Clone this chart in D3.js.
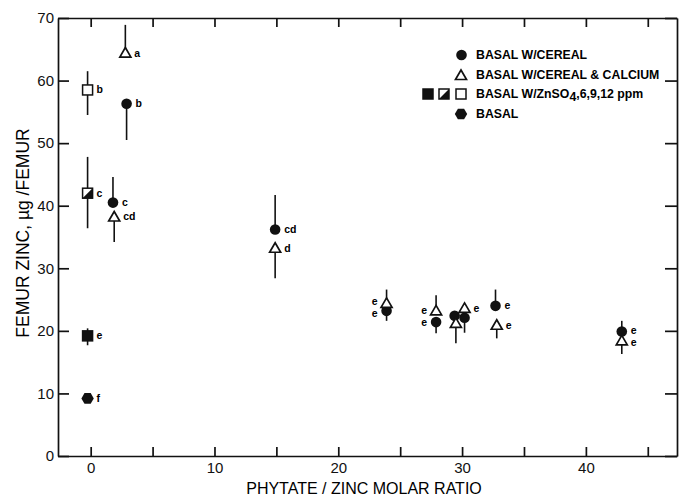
<!DOCTYPE html>
<html>
<head>
<meta charset="utf-8">
<script src="https://cdn.jsdelivr.net/npm/d3@7"></script>
<style>
body{margin:0;background:#fff;}
svg{display:block;font-family:"Liberation Sans",Arial,sans-serif;}
.axis .domain,.axis line{stroke:#111;stroke-width:1.7;}
.axis text{fill:#111;}
</style>
</head>
<body>
<div id="canvas"></div>
<script>
// values (x = phytate/zinc molar ratio, y = femur zinc ug)
var cerealX   = [2.9, 1.8, 14.9, 23.9, 27.9, 29.4, 30.2, 32.7, 42.9];
var cerealY   = [56.3, 40.5, 36.2, 23.2, 21.4, 22.4, 22.1, 24.0, 19.9];
var cerealHi  = [56.3, 44.6, 41.7, 23.2, 21.4, 22.4, 22.1, 26.6, 21.6];
var cerealLo  = [50.5, 40.5, 36.2, 21.6, 19.6, 22.4, 19.7, 24.0, 19.9];
var cerealLab = ['b', 'c', 'cd', 'e', 'e', '', '', 'e', 'e'];
var cerealSide = ['r', 'r', 'r', 'l', 'l', 'r', 'r', 'r', 'r'];

var calciumX   = [2.8, 1.9, 14.9, 23.9, 27.9, 29.5, 30.2, 32.8, 42.9];
var calciumY   = [64.4, 38.2, 33.2, 24.4, 23.2, 21.2, 23.6, 20.9, 18.4];
var calciumHi  = [68.9, 38.2, 33.2, 26.6, 25.7, 21.2, 23.6, 20.9, 18.4];
var calciumLo  = [64.4, 34.2, 28.4, 24.4, 23.2, 18.0, 23.6, 18.8, 16.3];
var calciumLab = ['a', 'cd', 'd', 'e', 'e', '', 'e', 'e', 'e'];
var calciumSide = ['r', 'r', 'r', 'l', 'l', 'r', 'r', 'r', 'r'];

var zincPpm = [6, 9, 12];
var zincX   = [-0.25, -0.25, -0.25];
var zincY   = [19.2, 42.0, 58.5];
var zincHi  = [20.4, 47.8, 61.5];
var zincLo  = [17.7, 36.4, 54.5];
var zincLab = ['e', 'c', 'b'];

var basalX = [-0.25];
var basalY = [9.2];
var basalLab = ['f'];

var xTicks = [0, 5, 10, 15, 20, 25, 30, 35, 40, 45];
var yTicks = [0, 10, 20, 30, 40, 50, 60, 70];

var legendText = ['BASAL W/CEREAL', 'BASAL W/CEREAL & CALCIUM', 'BASAL W/ZnSO', 'BASAL'];

// margin convention
var m = {t:18, r:5, b:42, l:58};
var outerWidth = 682, outerHeight = 498;
var w = outerWidth - m.l - m.r,
    h = outerHeight - m.t - m.b;

var svg = d3.select('#canvas')
    .append('svg')
    .attr('width', outerWidth)
    .attr('height', outerHeight);

var plot = svg.append('g')
    .attr('transform', 'translate(' + m.l + ',' + m.t + ')');

var scaleX = d3.scaleLinear().domain([-2.64, 47.36]).range([0, w]);
var scaleY = d3.scaleLinear().domain([0, 70]).range([h, 0]);

// axes, ticks point inward on all four sides
plot.append('g').attr('class', 'axis')
    .call(d3.axisLeft(scaleY).tickValues(yTicks).tickSize(-11).tickSizeOuter(0).tickPadding(4))
    .attr('font-size', 15).attr('font-family', null);

plot.append('g').attr('class', 'axis')
    .attr('transform', 'translate(0,' + h + ')')
    .call(d3.axisBottom(scaleX).tickValues(xTicks).tickSize(-9).tickSizeOuter(0).tickPadding(6)
        .tickFormat(function(d){ return d % 10 === 0 ? d : ''; }))
    .attr('font-size', 15).attr('font-family', null);

plot.append('g').attr('class', 'axis')
    .call(d3.axisTop(scaleX).tickValues(xTicks).tickSize(-9).tickSizeOuter(0).tickFormat(''));

plot.append('g').attr('class', 'axis')
    .attr('transform', 'translate(' + w + ',0)')
    .call(d3.axisRight(scaleY).tickValues(yTicks).tickSize(-12).tickSizeOuter(0).tickFormat(''));

// axis titles
svg.append('text')
    .attr('x', 364).attr('y', 494)
    .attr('text-anchor', 'middle')
    .attr('font-size', 16)
    .text('PHYTATE / ZINC MOLAR RATIO');

svg.append('text')
    .attr('transform', 'translate(29,233) rotate(-90)')
    .attr('text-anchor', 'middle')
    .attr('font-size', 17.5)
    .text('FEMUR ZINC, \u00b5g /FEMUR');

// marker helpers
function drawCircle(g, cx, cy){
    g.append('circle').attr('cx', cx).attr('cy', cy).attr('r', 5.3).attr('fill', '#111');
}
function drawTriangle(g, cx, cy){
    g.append('path')
        .attr('d', 'M' + cx + ',' + (cy - 5.5) + 'L' + (cx + 5.5) + ',' + (cy + 4) + 'L' + (cx - 5.5) + ',' + (cy + 4) + 'Z')
        .attr('fill', '#fff').attr('stroke', '#111').attr('stroke-width', 1.7);
}
function drawSquare(g, cx, cy, kind){
    g.append('rect')
        .attr('x', cx - 5).attr('y', cy - 5).attr('width', 10).attr('height', 10)
        .attr('fill', kind === 0 ? '#111' : '#fff')
        .attr('stroke', '#111').attr('stroke-width', 1.5);
    if(kind === 1){
        g.append('path')
            .attr('d', 'M' + (cx + 5) + ',' + (cy - 5) + 'L' + (cx + 5) + ',' + (cy + 5) + 'L' + (cx - 5) + ',' + (cy + 5) + 'Z')
            .attr('fill', '#111');
    }
}
function drawHexagon(g, cx, cy){
    var pts = d3.range(6).map(function(i){
        var a = Math.PI / 3 * i;
        return [cx + 6.2 * Math.cos(a), cy + 6.2 * Math.sin(a)];
    });
    g.append('path').attr('d', 'M' + pts.join('L') + 'Z').attr('fill', '#111');
}

// significance letters are collected first, then spread apart where they collide
var letters = [];
function addLabel(cx, cy, txt, side){
    if(!txt) return;
    letters.push({x: side === 'l' ? cx - 9 : cx + 9, y: cy, txt: txt, side: side});
}
function errBar(g, x, lo, hi){
    g.append('line')
        .attr('x1', scaleX(x)).attr('x2', scaleX(x))
        .attr('y1', scaleY(lo)).attr('y2', scaleY(hi))
        .attr('stroke', '#111').attr('stroke-width', 1.6);
}

// error bars first so markers sit on top
var bars = plot.append('g');
cerealX.forEach(function(x, i){ errBar(bars, x, cerealLo[i], cerealHi[i]); });
calciumX.forEach(function(x, i){ errBar(bars, x, calciumLo[i], calciumHi[i]); });
zincX.forEach(function(x, i){ errBar(bars, x, zincLo[i], zincHi[i]); });

var marks = plot.append('g');
cerealX.forEach(function(x, i){
    drawCircle(marks, scaleX(x), scaleY(cerealY[i]));
    addLabel(scaleX(x), scaleY(cerealY[i]), cerealLab[i], cerealSide[i]);
});
calciumX.forEach(function(x, i){
    drawTriangle(marks, scaleX(x), scaleY(calciumY[i]));
    addLabel(scaleX(x), scaleY(calciumY[i]), calciumLab[i], calciumSide[i]);
});
zincX.forEach(function(x, i){
    drawSquare(marks, scaleX(x), scaleY(zincY[i]), i);
    addLabel(scaleX(x), scaleY(zincY[i]), zincLab[i], 'r');
});
basalX.forEach(function(x, i){
    drawHexagon(marks, scaleX(x), scaleY(basalY[i]));
    addLabel(scaleX(x), scaleY(basalY[i]), basalLab[i], 'r');
});

var gap = 12;
for(var k = 0; k < 4; k++){
    letters.forEach(function(a){
        letters.forEach(function(b){
            if(a === b || a.side !== b.side || Math.abs(a.x - b.x) > 8) return;
            var d = b.y - a.y;
            if(d >= 0 && d < gap){
                a.y -= (gap - d) / 2;
                b.y += (gap - d) / 2;
            }
        });
    });
}

marks.selectAll('text.sig')
    .data(letters)
    .enter()
    .append('text')
    .attr('class', 'sig')
    .attr('x', function(d){ return d.x; })
    .attr('y', function(d){ return d.y + 3.5; })
    .attr('text-anchor', function(d){ return d.side === 'l' ? 'end' : 'start'; })
    .attr('font-size', 10.5).attr('font-weight', 'bold')
    .text(function(d){ return d.txt; });

// legend
var leg = svg.append('g');
var rowY = [55, 75, 94, 114];
drawCircle(leg, 461.5, rowY[0]);
drawTriangle(leg, 461, rowY[1] + 0.5);
drawSquare(leg, 428, rowY[2], 0);
drawSquare(leg, 444, rowY[2], 1);
drawSquare(leg, 461, rowY[2], 2);
drawHexagon(leg, 461, rowY[3]);

legendText.forEach(function(t, i){
    var tx = leg.append('text')
        .attr('x', 476).attr('y', rowY[i] + 4.3)
        .attr('font-size', 12.3).attr('font-weight', 'bold')
        .text(t);
    if(i === 2){
        tx.append('tspan').attr('dy', 3).text('4');
        tx.append('tspan').attr('dy', -3).text(',' + zincPpm.join(',') + ' ppm');
    }
});
</script>
</body>
</html>
